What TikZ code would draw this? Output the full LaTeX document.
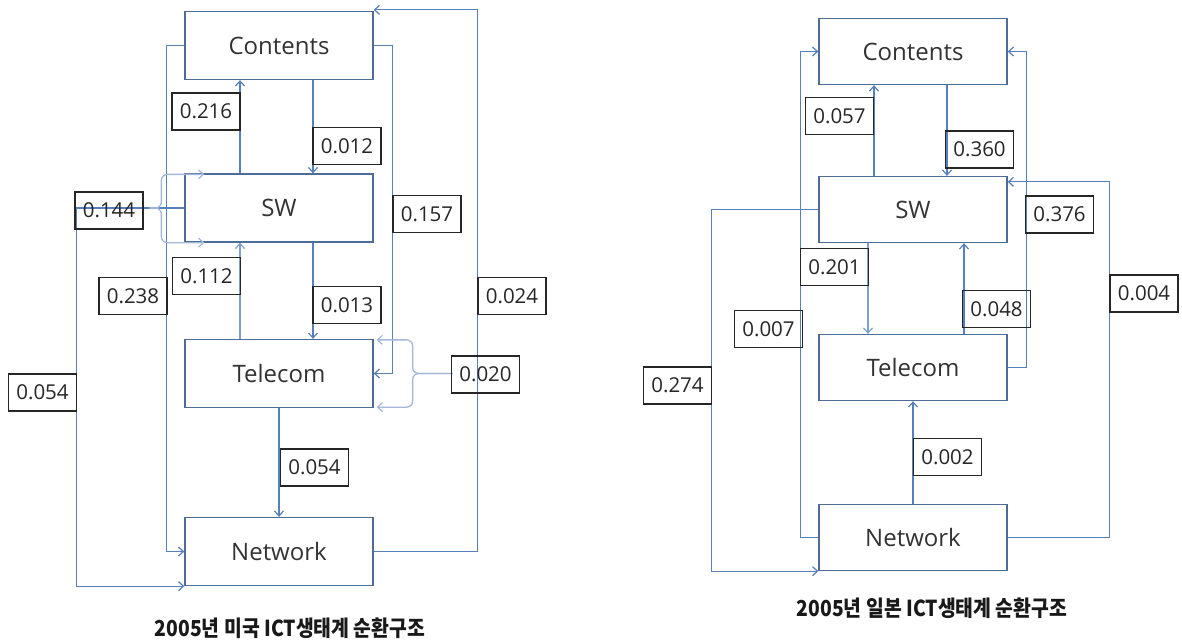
\documentclass[tikz,border=0pt]{standalone}
\usepackage{fontspec}
\setmainfont{Open Sans}
\newfontfamily\krfont{Noto Sans CJK KR}
\usetikzlibrary{arrows.meta}

\definecolor{flow}{HTML}{5580BD}
\definecolor{flowlight}{HTML}{A3B8D9}
\definecolor{flowmid}{HTML}{7F9FCC}
\definecolor{boxline}{HTML}{4D6C96}

\begin{document}
\begin{tikzpicture}[x=1pt,y=-1pt,
  sector/.style={draw=boxline, fill=white, line width=1.3pt, minimum width=188pt,
    minimum height=68pt, inner sep=0pt, text=black!80,
    font=\fontsize{24}{28}\selectfont},
  coef/.style={draw=black!85, line width=1.5pt, minimum width=68pt, minimum height=37pt,
    inner sep=0pt, text=black!85, font=\fontsize{20.5}{24}\selectfont},
  tip/.style={-{Straight Barb[length=5pt,width=9pt,line width=1.2pt]}},
  flowline/.style={draw=flow, line width=1.2pt, tip},
  lightline/.style={draw=flowmid, line width=1.1pt, tip},
  selfloop/.style={draw=flowlight, line width=1.3pt, rounded corners=6pt, tip},
  caption/.style={inner sep=0pt, text=black!90, font=\krfont\bfseries\fontsize{22}{26}\selectfont}
]
\useasboundingbox (0,0) rectangle (1182,640);

% ---------- US 2005 ----------
\node[sector] (C1) at (279,45.5)  {Contents};
\node[sector] (S1) at (279,208)   {SW};
\node[sector] (T1) at (279,373.5) {Telecom};
\node[sector] (N1) at (279,551.5) {Network};

\draw[flowline] ([xshift=34pt]C1.south) -- ([xshift=34pt]S1.north);
\draw[flowline] ([xshift=-39pt]S1.north) -- ([xshift=-39pt]C1.south);
\draw[flowline] ([xshift=34pt]S1.south) -- ([xshift=34pt]T1.north);
\draw[lightline] ([xshift=-39pt]T1.north) -- ([xshift=-39pt]S1.south);
\draw[flowline] (T1.south) -- (N1.north);
\draw[flowline] (C1.west) -- ++(-18,0) |- (N1.west);
\draw[flowline] (C1.east) -- ++(19,0) |- (T1.east);
\draw[flowline] (N1.east) -- ++(104,0) |- ([yshift=1pt]C1.north east);
\draw[flowline] (S1.west) -- ++(-108,0) |- (N1.south west);

% SW feeding back into itself
\draw[selfloop] ([xshift=-35pt]S1.west) -| ([xshift=-23pt,yshift=-1pt]S1.north west)
  -- ([xshift=20pt,yshift=-1pt]S1.north west);
\draw[selfloop] ([xshift=-35pt]S1.west) -| ([xshift=-23pt]S1.south west)
  -- ([xshift=20pt]S1.south west);

% Telecom feeding back into itself
\draw[selfloop] ([xshift=79pt]T1.east) -| ([xshift=39pt,yshift=-1pt]T1.north east)
  -- ([xshift=3pt,yshift=-1pt]T1.north east);
\draw[selfloop] ([xshift=79pt]T1.east) -| ([xshift=39pt,yshift=1pt]T1.south east)
  -- ([xshift=3pt,yshift=1pt]T1.south east);

\node[coef] (a216) at (206,111.5)  {0.216};
\node[coef] (a012) at (347,146)    {0.012};
\node[coef] (a144) at (109,210.5)  {0.144};
\node[coef] (a157) at (427,214)    {0.157};
\node[coef] (a112) at (206.5,276)  {0.112};
\node[coef] (a238) at (133,296)    {0.238};
\node[coef] (a013) at (347,305)    {0.013};
\node[coef] (a024) at (512,296)    {0.024};
\node[coef] (a020) at (485.5,374.5){0.020};
\node[coef] (a054l) at (42.5,392.5){0.054};
\node[coef] (a054m) at (314.5,467.5){0.054};

\node[caption] (cap1) at (290,628) {\scalebox{0.88}[1]{2005년 미국 ICT생태계 순환구조}};

% ---------- Japan 2005 ----------
\begin{scope}[sector/.append style={minimum height=66pt}]
\node[sector] (C2) at (913,51.5)  {Contents};
\node[sector] (S2) at (913,209.5) {SW};
\node[sector] (T2) at (913,367.5) {Telecom};
\node[sector] (N2) at (913,537.5) {Network};
\end{scope}

\draw[flowline] ([xshift=34pt]C2.south) -- ([xshift=34pt]S2.north);
\draw[flowline] ([xshift=-39pt]S2.north) -- ([xshift=-39pt]C2.south);
\draw[lightline] ([xshift=-45pt]S2.south) -- ([xshift=-45pt]T2.north);
\draw[flowline] ([xshift=51pt]T2.north) -- ([xshift=51pt]S2.south);
\draw[flowline] (N2.north) -- (T2.south);
\draw[flowline] (N2.west) -- ++(-18,0) |- (C2.west);
\draw[flowline] (T2.east) -- ++(19,0) |- (C2.east);
\draw[flowline] (N2.east) -- ++(102,0) |- ([yshift=-6pt]S2.north east);
\draw[flowline] (S2.west) -- ++(-107,0) |- (N2.south west);

\node[coef] (b057) at (839.5,116)   {0.057};
\node[coef] (b360) at (979.5,149.5) {0.360};
\node[coef] (b376) at (1059.5,214.5){0.376};
\node[coef] (b201) at (834.5,267)   {0.201};
\node[coef] (b004) at (1144,293.5)  {0.004};
\node[coef] (b048) at (996.5,309)   {0.048};
\node[coef] (b007) at (768.5,329)   {0.007};
\node[coef] (b274) at (677.5,385.5) {0.274};
\node[coef] (b002) at (947.5,457)   {0.002};

\node[caption] (cap2) at (932,608) {\scalebox{0.88}[1]{2005년 일본 ICT생태계 순환구조}};
\end{tikzpicture}
\end{document}
